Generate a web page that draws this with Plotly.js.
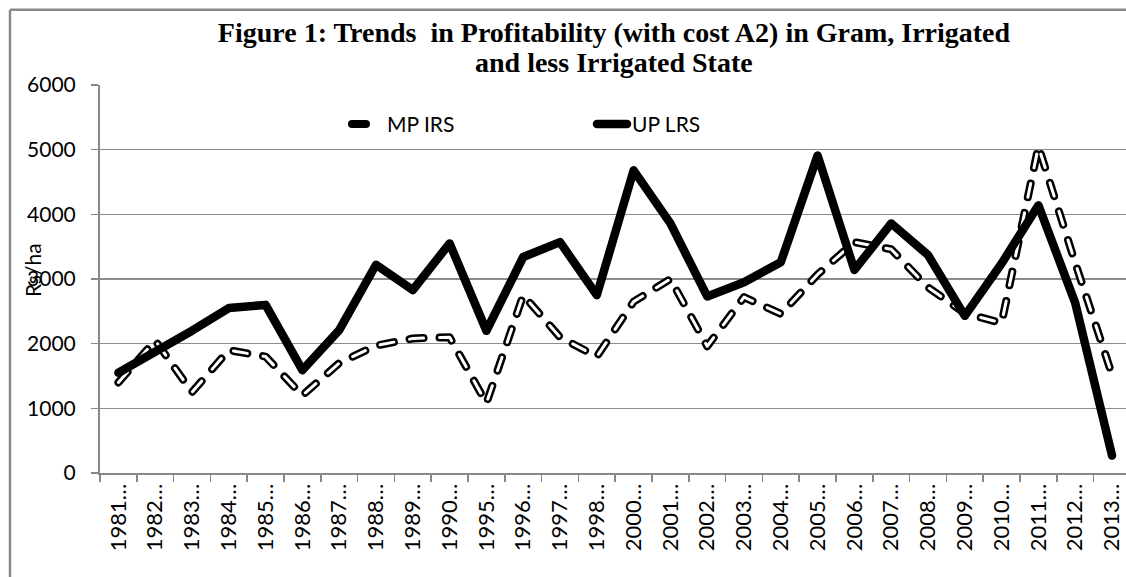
<!DOCTYPE html>
<html>
<head>
<meta charset="utf-8">
<script src="https://cdn.plot.ly/plotly-3.0.1.min.js"></script>
<style>
  html, body { margin: 0; padding: 0; background: #fff; overflow: hidden; }
  #chart { width: 1126px; height: 577px; overflow: hidden; }
  .scatterlayer .js-line, .legend .js-line { stroke-linecap: round !important; stroke-linejoin: round !important; }
</style>
</head>
<body>
<div id="chart"></div>
<script>
const categories = ["1981…","1982…","1983…","1984…","1985…","1986…","1987…","1988…","1989…","1990…",
  "1995…","1996…","1997…","1998…","2000…","2001…","2002…","2003…","2004…","2005…",
  "2006…","2007…","2008…","2009…","2010…","2011…","2012…","2013…"];
const mpIRS = [1400, 2050, 1250, 1900, 1800, 1200, 1700, 1970, 2080, 2100,
  1080, 2750, 2100, 1800, 2650, 3000, 1960, 2720, 2460, 3070,
  3570, 3460, 2870, 2470, 2320, 5050, 3250, 1520];
const upLRS = [1550, 1870, 2200, 2550, 2600, 1590, 2210, 3220, 2830, 3550,
  2200, 3340, 3570, 2750, 4680, 3860, 2730, 2950, 3260, 4910,
  3140, 3860, 3370, 2430, 3240, 4140, 2630, 270];
const seriesNames = ["MP IRS", "UP LRS"];
const titleLine1 = "Figure 1: Trends  in Profitability (with cost A2) in Gram, Irrigated";
const titleLine2 = "and less Irrigated State";
const yTitle = "Rs/ha";

const traces = [
  { x: categories, y: mpIRS, type: "scatter", mode: "lines", name: seriesNames[0],
    line: { color: "#000", width: 8, dash: "14px,16px" }, hoverinfo: "skip" },
  { x: categories, y: mpIRS, type: "scatter", mode: "lines", name: seriesNames[0] + " (inner)",
    showlegend: false, line: { color: "#fff", width: 3, dash: "14px,16px" }, hoverinfo: "skip" },
  { x: categories, y: upLRS, type: "scatter", mode: "lines", name: seriesNames[1],
    line: { color: "#000", width: 8.5 }, hoverinfo: "skip" }
];

const baseFont = { family: "Lato, 'Open Sans', sans-serif", size: 21, color: "#000" };
const titleFont = { family: "'Liberation Serif', 'Times New Roman', serif", size: 28, color: "#000", weight: "bold" };

// outer chart-area frame (left and top edges visible; right/bottom lie outside the crop)
const fx0 = (10 - 100) / 1026, fy1 = (473.3 - 9) / 388.8;

const layout = {
  width: 1126, height: 577,
  margin: { l: 100, r: 0, t: 85, b: 104, autoexpand: false },
  paper_bgcolor: "#fff", plot_bgcolor: "#fff",
  font: baseFont,
  title: {
    text: titleLine1,
    font: titleFont,
    x: 614 / 1126, xanchor: "center", xref: "container",
    y: 1 - 32 / 577, yanchor: "middle", yref: "container"
  },
  xaxis: {
    type: "category", range: [-0.5, 27.38], fixedrange: true,
    showgrid: false, zeroline: false,
    showline: true, linecolor: "#888", linewidth: 2,
    ticks: "outside", ticklen: 7, tickcolor: "#888", tickwidth: 1.5, tickson: "boundaries",
    tickangle: -90, tickfont: Object.assign({}, baseFont, { size: 22 }), automargin: false
  },
  yaxis: {
    range: [0, 6000], dtick: 1000, fixedrange: true,
    showgrid: true, gridcolor: "#8c8c8c", gridwidth: 1.5, zeroline: false,
    showline: true, linecolor: "#888", linewidth: 2,
    ticks: "outside", ticklen: 7, tickcolor: "#888", tickwidth: 1.5,
    ticklabelstandoff: 11, tickfont: baseFont, automargin: false
  },
  legend: {
    orientation: "h", x: (347 - 100) / 1026, xanchor: "left",
    y: (473.3 - 124) / 388.8, yanchor: "middle",
    font: baseFont, bgcolor: "rgba(0,0,0,0)", entrywidth: 200, traceorder: "normal"
  },
  annotations: [
    { text: titleLine2, xref: "paper", yref: "paper", x: (614 - 100) / 1026, y: (473.3 - 62) / 388.8,
      showarrow: false, font: titleFont, xanchor: "center", yanchor: "middle" },
    { text: yTitle, xref: "paper", yref: "paper", x: (32 - 100) / 1026, y: (473.3 - 270) / 388.8,
      textangle: -90, showarrow: false, font: baseFont, xanchor: "center", yanchor: "middle" }
  ],
  shapes: [
    { type: "line", xref: "paper", yref: "paper", layer: "below",
      x0: fx0, x1: fx0, y0: -0.35, y1: fy1,
      line: { color: "#8a8a8a", width: 2.5 } },
    { type: "line", xref: "paper", yref: "paper", layer: "below",
      x0: fx0, x1: 1.02, y0: fy1, y1: fy1,
      line: { color: "#8a8a8a", width: 2.5 } }
  ],
  showlegend: true
};

Plotly.newPlot("chart", traces, layout, { displayModeBar: false, staticPlot: true });
</script>
</body>
</html>
